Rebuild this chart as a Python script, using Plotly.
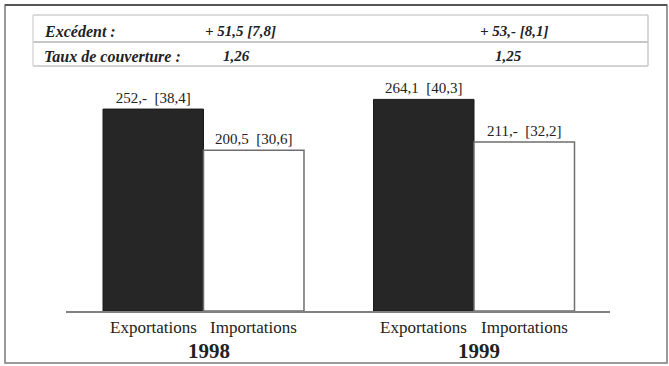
import plotly.graph_objects as go

# --- data -----------------------------------------------------------------
years = ["1998", "1999"]
exports = [252.0, 264.1]          # milliards FF
imports = [200.5, 211.0]
exports_eur = [38.4, 40.3]        # milliards EUR
imports_eur = [30.6, 32.2]
surplus = [51.5, 53.0]
surplus_eur = [7.8, 8.1]
coverage = [1.26, 1.25]
series_names = ["Exportations", "Importations"]


def fr(v, nd=1):
    """French-style number: 252 -> '252,-', 200.5 -> '200,5'."""
    if abs(v - round(v)) < 1e-9:
        return f"{int(round(v))},-"
    return f"{v:.{nd}f}".replace(".", ",")


NB = "\u00a0"
FONT = "Liberation Serif, Times New Roman, serif"
INK = "#222222"

# --- canvas geometry ------------------------------------------------------
W, H = 669, 366
ML, MR, MT, MB = 66, 59, 75, 55
PW, PH = W - ML - MR, H - MT - MB
BARGAP = 0.257


def px(x):
    return (x - ML) / PW


def py(y):
    return (H - MB - y) / PH


fig = go.Figure()

label_font = dict(family=FONT, size=15, color=INK)
fig.add_trace(go.Bar(
    x=years, y=exports, name=series_names[0],
    marker=dict(color="#262626", line=dict(color="#1a1a1a", width=1)),
    text=[f"{fr(v)}{NB}{NB}[{fr(e)}]" for v, e in zip(exports, exports_eur)],
    textposition="outside", constraintext="none", cliponaxis=False,
    textfont=label_font, outsidetextfont=label_font,
))
fig.add_trace(go.Bar(
    x=years, y=imports, name=series_names[1],
    marker=dict(color="white", line=dict(color="#6e6e6e", width=1.5)),
    text=[f"{fr(v)}{NB}{NB}[{fr(e)}]" for v, e in zip(imports, imports_eur)],
    textposition="outside", constraintext="none", cliponaxis=False,
    textfont=label_font, outsidetextfont=label_font,
))

# category labels under each bar and the year under each group
half = (1 - BARGAP) / 4
annotations = []
for i, yr in enumerate(years):
    for k, name in enumerate(series_names):
        annotations.append(dict(
            x=i + (2 * k - 1) * half, y=0, xref="x", yref="paper",
            text=name, showarrow=False, yanchor="middle", yshift=-16,
            font=dict(family=FONT, size=17, color=INK)))
    annotations.append(dict(
        x=i + 0.02, y=0, xref="x", yref="paper",
        text=f"<b>{yr}</b>", showarrow=False, yanchor="middle", yshift=-40,
        font=dict(family=FONT, size=21, color=INK)))

# summary table above the bars
row_y = [31, 56]
row_labels = ["Excédent :", "Taux de couverture :"]
for ry, lab in zip(row_y, row_labels):
    annotations.append(dict(
        x=px(42), y=py(ry), xref="paper", yref="paper", xanchor="left",
        yanchor="middle", text=f"<b><i>{lab}</i></b>", showarrow=False,
        font=dict(family=FONT, size=16, color=INK)))
surplus_x = [240, 514]
coverage_x = [236, 508]
for i in range(len(years)):
    annotations.append(dict(
        x=px(surplus_x[i]), y=py(row_y[0]), xref="paper", yref="paper",
        xanchor="center", yanchor="middle", showarrow=False,
        text=f"<b><i>+ {fr(surplus[i])} [{fr(surplus_eur[i])}]</i></b>",
        font=dict(family=FONT, size=15, color=INK)))
    annotations.append(dict(
        x=px(coverage_x[i]), y=py(row_y[1]), xref="paper", yref="paper",
        xanchor="center", yanchor="middle", showarrow=False,
        text=f"<b><i>{coverage[i]:.2f}</i></b>".replace(".", ","),
        font=dict(family=FONT, size=15, color=INK)))

shapes = [
    # outer frame
    dict(type="rect", xref="paper", yref="paper",
         x0=px(5), x1=px(667), y0=py(363), y1=py(5),
         line=dict(color="#7a7a7a", width=1.5)),
    dict(type="line", xref="paper", yref="paper",
         x0=px(5), x1=px(667), y0=py(5), y1=py(5),
         line=dict(color="#555555", width=2)),
    # table rules
    dict(type="line", xref="paper", yref="paper",
         x0=px(33), x1=px(648), y0=py(15), y1=py(15),
         line=dict(color="#cfcfcf", width=1.5)),
    dict(type="line", xref="paper", yref="paper",
         x0=px(33), x1=px(648), y0=py(42), y1=py(42),
         line=dict(color="#b5b5b5", width=1.5)),
    dict(type="line", xref="paper", yref="paper",
         x0=px(33), x1=px(648), y0=py(66), y1=py(66),
         line=dict(color="#c4c4c4", width=1.5)),
    dict(type="line", xref="paper", yref="paper",
         x0=px(33), x1=px(33), y0=py(15), y1=py(66),
         line=dict(color="#d8d8d8", width=1.5)),
    dict(type="line", xref="paper", yref="paper",
         x0=px(648), x1=px(648), y0=py(15), y1=py(66),
         line=dict(color="#c8c8c8", width=1.5)),
]

fig.update_layout(
    width=W, height=H,
    margin=dict(l=ML, r=MR, t=MT, b=MB, pad=0),
    paper_bgcolor="white", plot_bgcolor="white",
    font=dict(family=FONT, color=INK),
    barmode="group", bargap=BARGAP, bargroupgap=0,
    showlegend=False,
    annotations=annotations, shapes=shapes,
    xaxis=dict(type="category", range=[(ML - 203.5) / 270.5, (W - MR - 203.5) / 270.5],
               showticklabels=False, ticks="", showgrid=False, zeroline=False,
               showline=True, linecolor="#808080", linewidth=1.5),
    yaxis=dict(range=[0, PH / 0.8013], visible=False, showgrid=False,
               zeroline=False),
)

fig.write_html("out.html")
